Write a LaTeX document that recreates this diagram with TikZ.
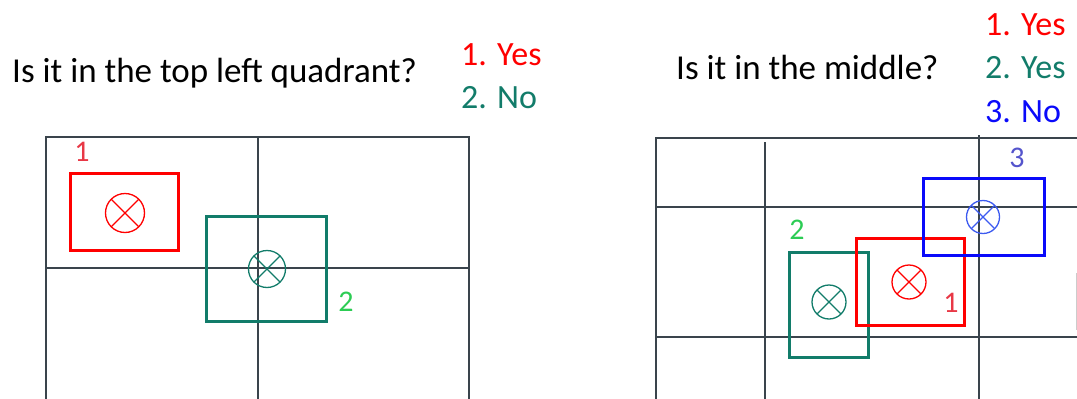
\documentclass[tikz,border=0pt]{standalone}
\usepackage{fontspec}
\setmainfont{Carlito}
\usetikzlibrary{positioning}
\definecolor{gridgray}{RGB}{58,68,76}
\definecolor{markred}{RGB}{255,0,0}
\definecolor{markteal}{RGB}{18,124,106}
\definecolor{markblue}{RGB}{10,10,250}
\definecolor{tagred}{RGB}{232,56,70}
\definecolor{taggreen}{RGB}{44,204,84}
\definecolor{tagblue}{RGB}{84,84,204}
\definecolor{targetblue}{RGB}{60,90,240}

\begin{document}
\begin{tikzpicture}[x=1pt, y=-1pt,
  gridline/.style={draw=gridgray, line width=1.8pt},
  window/.style={draw, line width=3.5pt, inner sep=0pt},
  target/.style={circle, draw, line width=1.3pt, inner sep=0pt, minimum size=#1,
    path picture={\draw[line width=1.3pt]
      (path picture bounding box.north west) -- (path picture bounding box.south east)
      (path picture bounding box.north east) -- (path picture bounding box.south west);}},
  question/.style={font=\fontsize{35}{42}\selectfont, inner sep=0pt, anchor=base west},
  answer/.style={font=\fontsize{34}{40}\selectfont, inner sep=0pt, anchor=base west},
  tag/.style={font=\fontsize{30}{34}\selectfont, inner sep=0pt}]
  \useasboundingbox (0,0) rectangle (1077,399);

  % left panel: quadrants
  \draw[gridline] (46,400) -- (46,137) -- (469,137) -- (469,400);
  \draw[gridline] (258,137) -- (258,400);
  \draw[gridline] (46,268) -- (469,268);

  \node[question] (qleft) at (12,82) {Is it in the top left quadrant?};
  \node[answer, text=markred] (aleftyes) at (461,65) {1. Yes};
  \node[answer, text=markteal] (aleftno) at (461,108) {2. No};

  \node[window, draw=markred, minimum width=108pt, minimum height=77pt] (leftone) at (124.5,212) {};
  \node[target=39pt, color=markred] (leftonec) at (125,213) {};
  \node[tag, text=tagred] (leftonet) at (82,152) {1};

  \node[window, draw=markteal, minimum width=120pt, minimum height=105pt] (lefttwo) at (266.5,269) {};
  \node[target=37pt, color=markteal] (lefttwoc) at (267,269) {};
  \node[tag, text=taggreen] (lefttwot) at (346,302) {2};

  % right panel: grid cells
  \draw[gridline] (656,400) -- (656,138) -- (1077,138);
  \draw[gridline] (765,142) -- (765,400);
  \draw[gridline] (979,135) -- (979,400);
  \draw[gridline] (656,207) -- (1077,207);
  \draw[gridline] (656,337) -- (1077,337);
  \draw[draw=gray!40, line width=1pt] (1076,273) -- (1076,330);

  \node[question] (qright) at (676,79) {Is it in the middle?};
  \node[answer, text=markred] (arightone) at (985,35) {1. Yes};
  \node[answer, text=markteal] (arighttwo) at (985,78) {2. Yes};
  \node[answer, text=markblue] (arightthree) at (985,122) {3. No};

  \node[window, draw=markteal, minimum width=79pt, minimum height=105pt] (righttwo) at (829,305) {};
  \node[target=34pt, color=markteal] (righttwoc) at (829,302) {};
  \node[tag, text=taggreen] (righttwot) at (797,230) {2};

  \node[window, draw=markred, minimum width=108pt, minimum height=87pt] (rightone) at (910.5,282) {};
  \node[target=34pt, color=markred] (rightonec) at (909,282) {};
  \node[tag, text=tagred] (rightonet) at (951,303) {1};

  \node[window, draw=markblue, minimum width=121pt, minimum height=77pt] (rightthree) at (984,217) {};
  \node[target=33pt, color=targetblue] (rightthreec) at (983,217) {};
  \node[tag, text=tagblue] (rightthreet) at (1017,158) {3};
\end{tikzpicture}
\end{document}
